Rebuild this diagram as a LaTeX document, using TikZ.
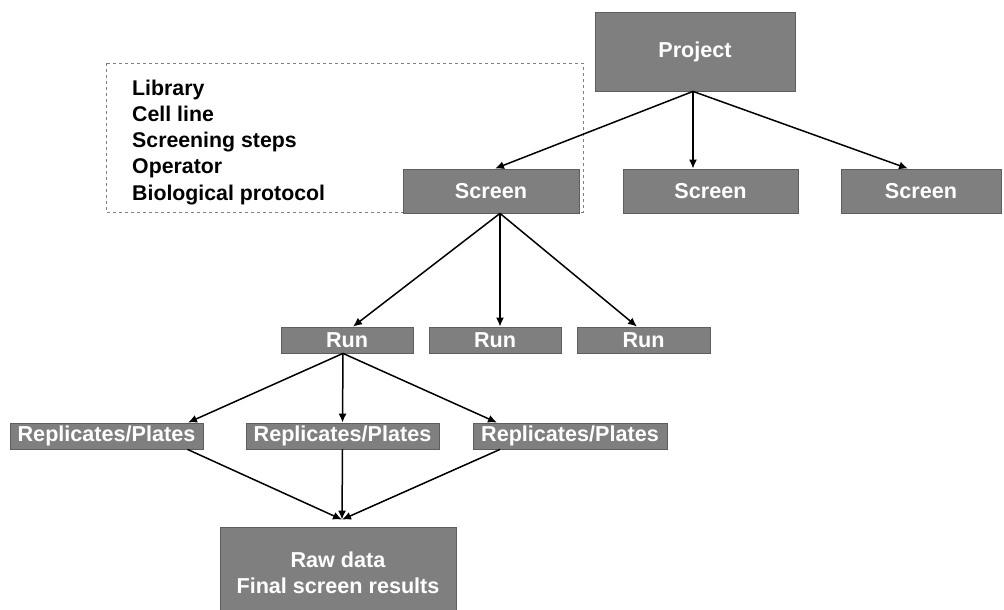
\documentclass[tikz,border=0pt]{standalone}
\usepackage{fontspec}
\setmainfont{Liberation Sans}
\usetikzlibrary{arrows.meta,calc}
\definecolor{boxgray}{HTML}{7F7F7F}
\definecolor{boxedge}{HTML}{5E5E5E}
\begin{document}
\begin{tikzpicture}[x=1pt,y=-1pt,
  gbox/.style={draw=boxedge,line width=0.8pt,fill=boxgray,text=white,inner sep=0pt,
    font=\fontsize{21.6}{26}\selectfont\bfseries,anchor=center},
  arr/.style={-{Latex[length=9pt,width=8pt]},line width=1.5pt,black},
  listtxt/.style={align=left,inner sep=0pt,font=\fontsize{21.3}{26.1}\selectfont\bfseries}]
\useasboundingbox (0,0) rectangle (1004,610);
\fill[white] (0,0) rectangle (1004,610);
% dashed frame
\draw[dashed,draw=gray,line width=0.8pt] (106,63) rectangle (583,212);
\node[listtxt,anchor=north west] (list) at (132,80) {Library\\Cell line\\Screening steps\\Operator\\Biological protocol};
% nodes
\node[gbox,minimum width=200pt,minimum height=79pt] (project) at (695,51.5) {Project};
\node[gbox,minimum width=176pt,minimum height=44pt] (scr1) at (491,191) {Screen};
\node[gbox,minimum width=175pt,minimum height=44pt] (scr2) at (710.5,191) {Screen};
\node[gbox,minimum width=160pt,minimum height=44pt] (scr3) at (921,191) {Screen};
\node[gbox,minimum width=132pt,minimum height=26pt] (run1) at (347,340) {Run};
\node[gbox,minimum width=132pt,minimum height=26pt] (run2) at (495,340) {Run};
\node[gbox,minimum width=133pt,minimum height=26pt] (run3) at (643.5,340) {Run};
\node[gbox,minimum width=193pt,minimum height=26pt] (rep1) at (106.5,436) {Replicates/Plates};
\node[gbox,minimum width=193pt,minimum height=26pt] (rep2) at (342.5,436) {Replicates/Plates};
\node[gbox,minimum width=194pt,minimum height=26pt] (rep3) at (570,436) {Replicates/Plates};
\node[gbox,minimum width=236pt,minimum height=92pt,align=center] (raw) at (338,573) {Raw data\\Final screen results};
\coordinate (rawtip) at ($(raw.north)+(4,-7)$);
% connectors
\draw[arr] ($(project.south)+(-2,0)$) -- ($(scr1.north)+(4,0)$);
\draw[arr] ($(project.south)+(-2,0)$) -- ($(scr2.north)+(-17.5,0)$);
\draw[arr] ($(project.south)+(-2,0)$) -- ($(scr3.north)+(-13,0)$);
\draw[arr] ($(scr1.south)+(9,0)$) -- ($(run1.north)+(6,0)$);
\draw[arr] ($(scr1.south)+(9,0)$) -- ($(run2.north)+(5,0)$);
\draw[arr] ($(scr1.south)+(9,0)$) -- ($(run3.north)+(-6.5,0)$);
\draw[arr] ($(run1.south)+(-4,0)$) -- ($(rep1.north)+(81.5,0)$);
\draw[arr] ($(run1.south)+(-4,0)$) -- ($(rep2.north)+(0,0)$);
\draw[arr] ($(run1.south)+(-4,0)$) -- ($(rep3.north)+(-73,0)$);
\draw[arr] ($(rep1.south)+(81,0)$) -- (rawtip);
\draw[arr] (rep2.south) -- (rawtip);
\draw[arr] ($(rep3.south)+(-70,0)$) -- (rawtip);
\end{tikzpicture}
\end{document}
